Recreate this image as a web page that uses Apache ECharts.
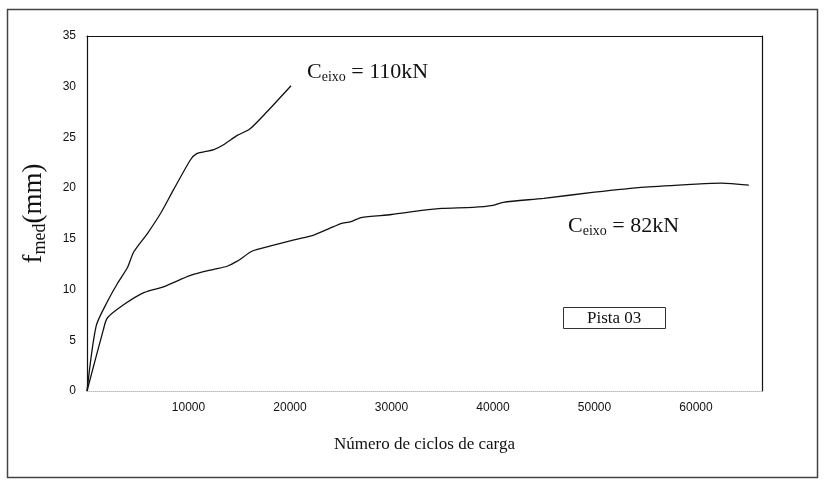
<!DOCTYPE html>
<html>
<head>
<meta charset="utf-8">
<script src="https://cdn.jsdelivr.net/npm/echarts@6/dist/echarts.min.js"></script>
<style>html,body{margin:0;padding:0;background:#fff}#c{width:824px;height:480px}</style>
</head>
<body>
<div id="c"></div>
<script>
// Data (cycles, f_med in mm)
var cycles110 = [0, 900, 2000, 3000, 4000, 4600, 6000, 7300, 8500, 10200, 10800, 11600, 12500, 13500, 14800, 16000, 17700, 20100];
var fmed110   = [0, 6.4, 8.8, 10.6, 12.2, 13.7, 15.6, 17.6, 19.8, 22.8, 23.4, 23.6, 23.8, 24.3, 25.2, 25.8, 27.5, 30.1];
var cycles82 = [0, 1600, 2000, 3600, 5600, 7600, 10200, 12500, 13800, 14800, 16300, 18100, 20400, 22400, 24300, 25000, 26000, 27000, 30000, 33000, 35000, 38000, 40000, 41000, 45000, 50000, 55000, 60000, 62500, 65200];
var fmed82   = [0, 6.0, 7.2, 8.5, 9.7, 10.3, 11.4, 12.0, 12.3, 12.8, 13.8, 14.3, 14.9, 15.4, 16.2, 16.5, 16.7, 17.1, 17.4, 17.8, 18.0, 18.1, 18.3, 18.6, 19.0, 19.6, 20.1, 20.4, 20.5, 20.3];
var xTicks = [10000, 20000, 30000, 40000, 50000, 60000];
var yTicks = [0, 5, 10, 15, 20, 25, 30, 35];

function pairs(xs, ys) { return xs.map(function (x, i) { return [x, ys[i]]; }); }

var serif = '"Liberation Serif", "DejaVu Serif", serif';
var sans = '"Liberation Sans", Arial, sans-serif';
var richC = {
  c: { fontFamily: serif, fontSize: 22, fontWeight: 'normal', color: '#111', lineHeight: 24 },
  s: { fontFamily: serif, fontSize: 14, fontWeight: 'normal', color: '#111', verticalAlign: 'bottom', lineHeight: 14 }
};

var chart = echarts.init(document.getElementById('c'));
chart.setOption({
  animation: false,
  backgroundColor: '#fff',
  graphic: [{
    type: 'rect', shape: { x: 7.5, y: 9.5, width: 810, height: 468 },
    style: { fill: 'none', stroke: '#444', lineWidth: 1.5 }, silent: true
  }],
  title: [
    { text: '{c|C}{s|eixo}{c| = 110kN}', left: 307, top: 60, padding: 0,
      textStyle: { fontWeight: 'normal', rich: richC } },
    { text: '{c|C}{s|eixo}{c| = 82kN}', left: 568, top: 214, padding: 0,
      textStyle: { fontWeight: 'normal', rich: richC } },
    { text: 'Pista 03', left: 563, top: 307, padding: [3, 24, 2, 24], borderWidth: 1, borderColor: '#333',
      textStyle: { fontFamily: serif, fontSize: 17, fontWeight: 'normal', color: '#111' } }
  ],
  grid: { left: 87, right: 62, top: 36, bottom: 89, containLabel: false },
  xAxis: [{
    type: 'value', min: 0, max: 66500, interval: 10000,
    name: 'Número de ciclos de carga', nameLocation: 'middle', nameGap: 45,
    nameTextStyle: { fontFamily: serif, fontSize: 17, color: '#111' },
    axisLine: { show: true, lineStyle: { color: '#bbb', type: 'dotted', width: 1 } },
    axisTick: { show: false }, splitLine: { show: false },
    axisLabel: {
      margin: 11, fontFamily: sans, fontSize: 12, color: '#111',
      formatter: function (v) { return xTicks.indexOf(v) >= 0 ? String(v) : ''; }
    }
  }, {
    type: 'value', position: 'top', min: 0, max: 66500,
    axisLine: { show: true, onZero: false, lineStyle: { color: '#111', width: 1.2 } },
    axisTick: { show: false }, axisLabel: { show: false }, splitLine: { show: false }
  }],
  yAxis: [{
    type: 'value', min: 0, max: 35, interval: 5,
    name: '{f|f}{s|med}{f|(mm)}', nameLocation: 'middle', nameRotate: 90, nameGap: 38,
    nameTextStyle: { rich: {
      f: { fontFamily: serif, fontSize: 27, color: '#111', lineHeight: 30 },
      s: { fontFamily: serif, fontSize: 18, color: '#111', verticalAlign: 'bottom', lineHeight: 18 }
    } },
    axisLine: { show: true, lineStyle: { color: '#111', width: 1.2 } },
    axisTick: { show: false }, splitLine: { show: false },
    axisLabel: {
      margin: 11, fontFamily: sans, fontSize: 12, color: '#111',
      formatter: function (v) { return yTicks.indexOf(v) >= 0 ? String(v) : ''; }
    }
  }, {
    type: 'value', position: 'right', min: 0, max: 35,
    axisLine: { show: true, onZero: false, lineStyle: { color: '#111', width: 1.2 } },
    axisTick: { show: false }, axisLabel: { show: false }, splitLine: { show: false }
  }],
  series: [{
    name: '110kN', type: 'line', xAxisIndex: 0, yAxisIndex: 0,
    data: pairs(cycles110, fmed110), symbol: 'none', smooth: 0.25,
    lineStyle: { color: '#111', width: 1.3 }
  }, {
    name: '82kN', type: 'line', xAxisIndex: 0, yAxisIndex: 0,
    data: pairs(cycles82, fmed82), symbol: 'none', smooth: 0.25,
    lineStyle: { color: '#111', width: 1.3 }
  }]
});
</script>
</body>
</html>
